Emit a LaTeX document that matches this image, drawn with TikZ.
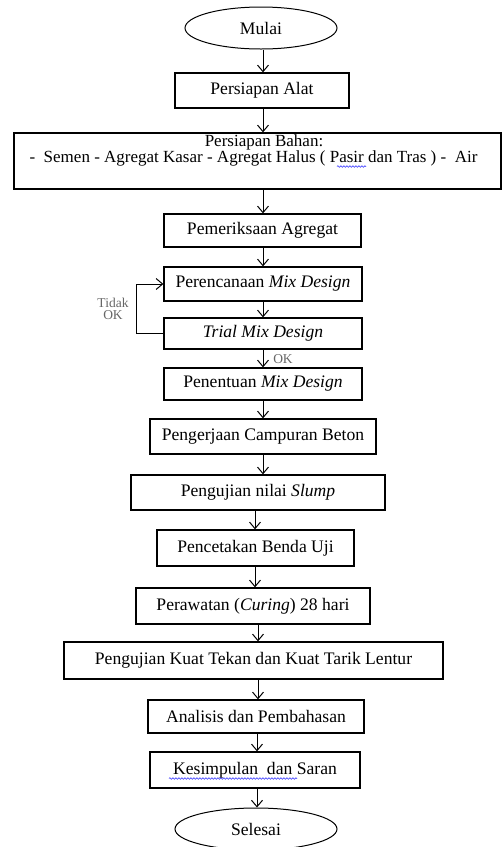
\documentclass[tikz,border=0pt]{standalone}
\usepackage{fontspec}
\setmainfont{Liberation Serif}
\usetikzlibrary{arrows.meta,shapes.geometric,decorations.pathmorphing}
\begin{document}
\begin{tikzpicture}[x=1pt,y=-1pt,
  every node/.style={font=\fontsize{17.6}{15}\selectfont, inner sep=0pt},
  box/.style={draw, line width=1.3pt, rectangle},
  term/.style={draw, line width=1pt, ellipse},
  arr/.style={line width=1pt, -{Straight Barb[length=6.5pt,width=11pt,line width=1pt]}},
  lbl/.style={font=\fontsize{13.5}{12}\selectfont, text=black!60, align=center},
  small/.style={font=\fontsize{17}{15}\selectfont},
  spell/.style={draw=blue!80, line width=0.6pt, decorate, decoration={snake, amplitude=0.8pt, segment length=3pt}}]
\useasboundingbox (0,0) rectangle (503,847);
% x positions of arrows
\coordinate (xa) at (263,0);
\coordinate (xb) at (255,0);
\coordinate (xc) at (258,0);
\coordinate (xd) at (257,0);
% nodes
\node[term, minimum width=152, minimum height=42] (mulai) at (261,28) {Mulai};
\node[box, minimum width=174, minimum height=35] (alat) at (262,90.5) {Persiapan Alat};
\node[box, minimum width=487, minimum height=56] (bahan) at (257.5,161) {};
\node[small] (bahan1) at (264,142.5) {Persiapan Bahan:};
\node[small] (bahan2) at (253.5,158.8) {-\ \ Semen - Agregat Kasar - Agregat Halus ( Pasir dan Tras ) -\ \ Air};
\node[box, minimum width=197, minimum height=33] (periksa) at (262.5,230.5) {Pemeriksaan Agregat};
\node[box, minimum width=198, minimum height=34] (renc) at (263,284) {Perencanaan \textit{Mix Design}};
\node[box, minimum width=198, minimum height=31] (trial) at (263,333.5) {\textit{Trial Mix Design}};
\node[box, minimum width=198, minimum height=32] (tentu) at (263,384) {Penentuan \textit{Mix Design}};
\node[box, minimum width=226, minimum height=35] (kerja) at (263,436.5) {Pengerjaan Campuran Beton};
\node[box, minimum width=254, minimum height=35] (slump) at (258,492.5) {Pengujian nilai \textit{Slump}};
\node[box, minimum width=197, minimum height=36] (cetak) at (255.5,548) {Pencetakan Benda Uji};
\node[box, minimum width=234, minimum height=36] (rawat) at (253,606) {Perawatan (\textit{Curing}) 28 hari};
\node[box, minimum width=379, minimum height=37] (uji) at (253.5,660.5) {Pengujian Kuat Tekan dan Kuat Tarik Lentur};
\node[box, minimum width=216, minimum height=33] (analisis) at (256,716.5) {Analisis dan Pembahasan};
\node[box, minimum width=210, minimum height=36] (simpul) at (255,770) {Kesimpulan\ \ dan Saran};
\node[term, minimum width=162, minimum height=42] (selesai) at (256,829) {Selesai};
% labels
\node[lbl] (tidak) at (113,309) {Tidak\\OK};
\node[lbl] (ok) at (283,359) {OK};
% connectors
\draw[arr] (mulai.south -| xa) -- (alat.north -| xa);
\draw[arr] (alat.south -| xa) -- (bahan.north -| xa);
\draw[arr] (bahan.south -| xa) -- (periksa.north -| xa);
\draw[arr] (periksa.south -| xa) -- (renc.north -| xa);
\draw[arr] (renc.south -| xa) -- (trial.north -| xa);
\draw[arr] (trial.south -| xa) -- (tentu.north -| xa);
\draw[arr] (tentu.south -| xa) -- (kerja.north -| xa);
\draw[arr] (kerja.south -| xa) -- (slump.north -| xa);
\draw[arr] (slump.south -| xb) -- (cetak.north -| xb);
\draw[arr] (cetak.south -| xb) -- (rawat.north -| xb);
\draw[arr] (rawat.south -| xc) -- (uji.north -| xc);
\draw[arr] (uji.south -| xc) -- (analisis.north -| xc);
\draw[arr] (analisis.south -| xd) -- (simpul.north -| xd);
\draw[arr] (simpul.south -| xd) -- (selesai.north -| xd);
\draw[arr] (trial.west) -- ++(-27,0) |- (renc.west);
% spell-check underlines
\draw[spell] (337,166.5) -- (366,166.5);
\draw[spell] (169,778.5) -- (297,778.5);
\end{tikzpicture}
\end{document}
